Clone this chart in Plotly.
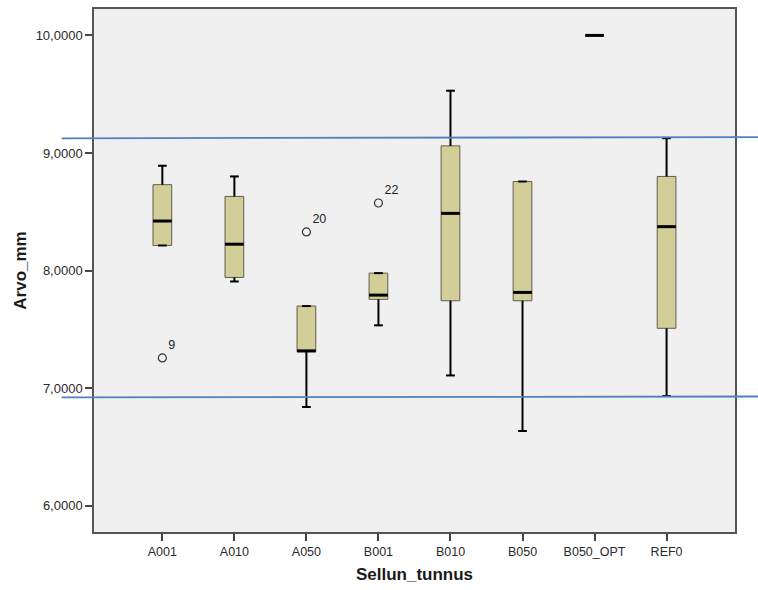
import plotly.graph_objects as go

categories = ["A001", "A010", "A050", "B001", "B010", "B050", "B050_OPT", "REF0"]
lower_whisker = [8.214, 7.908, 6.841, 7.535, 7.109, 6.637, None, 6.934]
q1_values = [8.214, 7.942, 7.310, 7.756, 7.744, 7.744, None, 7.510]
median_values = [8.422, 8.225, 7.318, 7.792, 8.487, 7.815, 10.000, 8.374]
q3_values = [8.731, 8.631, 7.699, 7.979, 9.061, 8.758, None, 8.801]
upper_whisker = [8.892, 8.801, 7.699, 7.979, 9.530, 8.758, None, 9.126]

outlier_category = ["A001", "A050", "B001"]
outlier_values = [7.258, 8.329, 8.575]
outlier_labels = ["9", "20", "22"]

y_tick_values = [6, 7, 8, 9, 10]
y_tick_labels = ["6,0000", "7,0000", "8,0000", "9,0000", "10,0000"]

ref_line_upper = [9.1254, 9.1356]
ref_line_lower = [6.922, 6.930]

FONT = "Liberation Sans, Arial, sans-serif"
BOX_W = 0.26
CAP_HALF = 0.06
MED_HALF = 0.13

fig = go.Figure()

idx = [i for i, q in enumerate(q1_values) if q is not None]
fig.add_trace(go.Box(
    x=idx,
    q1=[q1_values[i] for i in idx],
    median=[median_values[i] for i in idx],
    q3=[q3_values[i] for i in idx],
    lowerfence=[lower_whisker[i] for i in idx],
    upperfence=[upper_whisker[i] for i in idx],
    width=BOX_W,
    whiskerwidth=0.46,
    fillcolor="#d3ce98",
    line=dict(color="#5e5e52", width=1),
    boxpoints=False,
    showlegend=False,
    hoverinfo="skip",
))

# whiskers (black, thicker)
wx, wy = [], []
for i in idx:
    wx += [i, i, None, i - CAP_HALF, i + CAP_HALF, None]
    wy += [q3_values[i], upper_whisker[i], None, upper_whisker[i], upper_whisker[i], None]
    wx += [i, i, None, i - CAP_HALF, i + CAP_HALF, None]
    wy += [q1_values[i], lower_whisker[i], None, lower_whisker[i], lower_whisker[i], None]
fig.add_trace(go.Scatter(x=wx, y=wy, mode="lines", line=dict(color="black", width=2),
                         showlegend=False, hoverinfo="skip"))

# medians
mx, my = [], []
for i, m in enumerate(median_values):
    mx += [i - MED_HALF, i + MED_HALF, None]
    my += [m, m, None]
fig.add_trace(go.Scatter(x=mx, y=my, mode="lines", line=dict(color="black", width=3),
                         showlegend=False, hoverinfo="skip"))

# outliers
fig.add_trace(go.Scatter(
    x=[categories.index(c) for c in outlier_category],
    y=outlier_values,
    mode="markers+text",
    marker=dict(symbol="circle-open", size=8, color="#333333", line=dict(width=1.2)),
    text=outlier_labels,
    textposition="top right",
    textfont=dict(family=FONT, size=12.5, color="#222222"),
    showlegend=False, hoverinfo="skip", cliponaxis=False,
))

# reference lines
for vals in (ref_line_upper, ref_line_lower):
    fig.add_shape(type="line", xref="paper", yref="y",
                  x0=-0.0504, x1=1.0364, y0=vals[0], y1=vals[1],
                  line=dict(color="#4f81bd", width=1.8), layer="above")

fig.update_layout(
    width=758, height=590,
    margin=dict(l=94, r=23, t=7, b=58),
    paper_bgcolor="white",
    plot_bgcolor="#f0f0f0",
    font=dict(family=FONT, size=12, color="#333333"),
    xaxis=dict(
        range=[-0.949, 7.95],
        tickmode="array", tickvals=list(range(len(categories))), ticktext=categories,
        showgrid=False, zeroline=False,
        showline=True, mirror=True, linecolor="#555555", linewidth=1.5,
        ticks="outside", ticklen=7, tickwidth=1.5, tickcolor="#444444",
        tickfont=dict(family=FONT, size=12.5, color="#2a2a2a"),
        title=dict(text="<b>Sellun_tunnus</b>", font=dict(family=FONT, size=17, color="#1a1a1a"),
                   standoff=10),
    ),
    yaxis=dict(
        range=[5.778, 10.2246],
        tickmode="array", tickvals=y_tick_values, ticktext=y_tick_labels,
        showgrid=False, zeroline=False,
        showline=True, mirror=True, linecolor="#555555", linewidth=1.5,
        ticks="outside", ticklen=7, tickwidth=1.5, tickcolor="#444444",
        tickfont=dict(family=FONT, size=13, color="#2a2a2a"),
        title=dict(text="<b>Arvo_mm</b>", font=dict(family=FONT, size=17, color="#1a1a1a"),
                   standoff=5),
    ),
)

fig.write_html("out.html")
